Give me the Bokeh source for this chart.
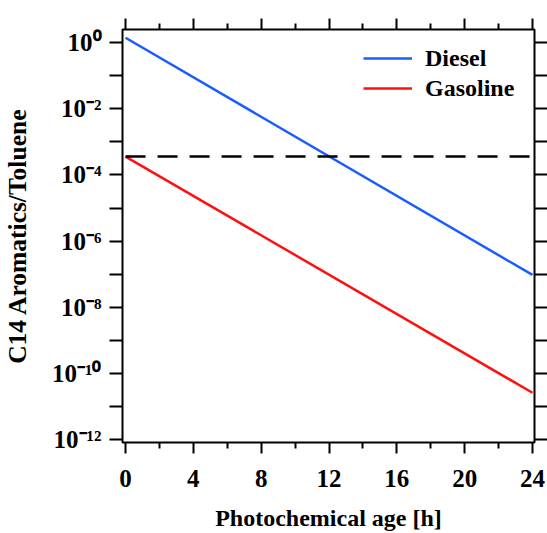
from bokeh.plotting import figure
from bokeh.models import LogAxis, LinearAxis, FixedTicker, Range1d, Legend, LegendItem
from bokeh.embed import file_html
from bokeh.resources import INLINE

# ---- data ----
age_h = [0, 24]
diesel = [1.41, 9.5e-8]
gasoline = [3.6e-4, 2.6e-11]
threshold_x = [0, 24]
threshold_y = [3.6e-4, 3.6e-4]

x_major = [0, 4, 8, 12, 16, 20, 24]
x_minor = [2, 6, 10, 14, 18, 22]
y_label_exponents = [-12, -10, -8, -6, -4, -2, 0]
y_plain_exponents = [-11, -9, -7, -5, -3, -1]
sup = str.maketrans("-0123456789", "⁻⁰¹²³⁴⁵⁶⁷⁸⁹")
y_major = [10.0 ** e for e in y_label_exponents]
y_minor = [10.0 ** e for e in y_plain_exponents]
y_labels = {10.0 ** e: "10" + str(e).translate(sup) for e in y_label_exponents}

FONT = "Liberation Serif"

p = figure(width=547, height=533, y_axis_type="log",
           x_range=Range1d(-0.18, 24.12), y_range=Range1d(10 ** -12.09, 10 ** 0.40),
           output_backend="svg", toolbar_location=None,
           min_border_left=122, min_border_right=13, min_border_top=29, min_border_bottom=91)
p.background_fill_color = "white"
p.border_fill_color = "white"
p.grid.visible = False
p.outline_line_color = "black"
p.outline_line_width = 2

# lines
r_d = p.line(age_h, diesel, line_color="#1a5cff", line_width=2.5)
r_g = p.line(age_h, gasoline, line_color="#ff1010", line_width=2.5)
p.line(threshold_x, threshold_y, line_color="black", line_width=2.5, line_dash="20 12")


def ticks_common(ax):
    ax.axis_line_color = None
    ax.major_tick_in = 0
    ax.minor_tick_in = 0
    ax.major_tick_line_width = 2
    ax.minor_tick_line_width = 2
    ax.major_tick_line_color = "black"
    ax.minor_tick_line_color = "black"


def no_labels(ax):
    ax.major_label_text_color = None
    ax.major_label_text_font_size = "1px"
    ax.major_label_standoff = 0


def labels(ax, standoff):
    ax.major_label_text_font = FONT
    ax.major_label_text_font_style = "bold"
    ax.major_label_text_font_size = "25px"
    ax.major_label_text_color = "black"
    ax.major_label_standoff = standoff


def style_x(ax):
    ax.ticker = FixedTicker(ticks=x_major, minor_ticks=x_minor)
    ticks_common(ax)
    ax.major_tick_out = 11
    ax.minor_tick_out = 6


def style_y(ax):
    ax.ticker = FixedTicker(ticks=y_major, minor_ticks=y_minor)
    ticks_common(ax)
    ax.major_tick_out = 13
    ax.minor_tick_out = 13


xb = p.xaxis[0]
style_x(xb)
labels(xb, 16)
xb.axis_label = "Photochemical age [h]"
xb.axis_label_text_font = FONT
xb.axis_label_text_font_style = "bold"
xb.axis_label_text_font_size = "24px"
xb.axis_label_text_color = "black"
xb.axis_label_standoff = 15

yl = p.yaxis[0]
style_y(yl)
labels(yl, 8)
yl.major_label_overrides = y_labels
yl.axis_label = "C14 Aromatics/Toluene"
yl.axis_label_text_font = FONT
yl.axis_label_text_font_style = "bold"
yl.axis_label_text_font_size = "25.5px"
yl.axis_label_text_color = "black"
yl.axis_label_standoff = 17

xt = LinearAxis()
style_x(xt)
no_labels(xt)
p.add_layout(xt, "above")

yr = LogAxis()
style_y(yr)
no_labels(yr)
p.add_layout(yr, "right")

legend = Legend(items=[LegendItem(label="Diesel", renderers=[r_d]),
                       LegendItem(label="Gasoline", renderers=[r_g])],
                location=(241, 339))
legend.label_text_font = FONT
legend.label_text_font_style = "bold"
legend.label_text_font_size = "24px"
legend.label_text_color = "black"
legend.glyph_width = 49
legend.glyph_height = 30
legend.label_height = 30
legend.label_standoff = 13
legend.spacing = 0
legend.padding = 0
legend.margin = 0
legend.border_line_alpha = 0
legend.background_fill_alpha = 0
p.add_layout(legend, "center")

open("out.html", "w").write(file_html(p, INLINE))
